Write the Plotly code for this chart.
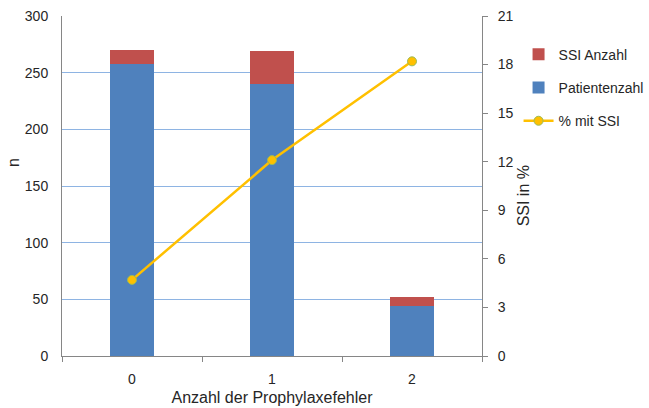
import plotly.graph_objects as go

# Anzahl der Prophylaxefehler
categories = ["0", "1", "2"]
# Patienten ohne SSI (untere Säule) und SSI-Fälle (aufgesetzt)
patientenzahl = [258, 240, 44]
ssi_anzahl = [12, 29, 8]
# Anteil SSI in Prozent
prozent_ssi = [4.7, 12.1, 18.2]

left_ticks = [0, 50, 100, 150, 200, 250, 300]
right_ticks = [0, 3, 6, 9, 12, 15, 18, 21]

FONT = "Liberation Sans, Arial, Helvetica, sans-serif"
TXT = "#262626"
AXIS = "#868686"

fig = go.Figure()

fig.add_trace(go.Bar(
    x=categories, y=patientenzahl, name="Patientenzahl",
    marker=dict(color="#4F81BD", line=dict(width=0)),
    width=0.32, legendrank=2, legendgroup="b",
))
fig.add_trace(go.Bar(
    x=categories, y=ssi_anzahl, name="SSI Anzahl",
    marker=dict(color="#C0504D", line=dict(width=0)),
    width=0.32, legendrank=1, legendgroup="a",
))
fig.add_trace(go.Scatter(
    x=categories, y=prozent_ssi, name="% mit SSI", yaxis="y2",
    mode="lines+markers",
    line=dict(color="#FFC000", width=2.5),
    marker=dict(size=9, color="#FFC000", line=dict(color="#9BBB59", width=1)),
    legendrank=3, legendgroup="c",
))

fig.update_layout(
    width=649, height=408,
    margin=dict(l=62, r=167, t=16, b=52, autoexpand=False),
    paper_bgcolor="white", plot_bgcolor="white",
    barmode="stack",
    font=dict(family=FONT, size=14, color=TXT),
    showlegend=True,
    legend=dict(
        xref="container", yref="container",
        x=0.799, y=0.905, xanchor="left", yanchor="top",
        font=dict(size=14, color=TXT),
        tracegroupgap=12, itemwidth=30,
        bgcolor="rgba(0,0,0,0)",
    ),
    xaxis=dict(
        type="category", range=[-0.5, 2.5], automargin=False,
        showline=True, linecolor=AXIS, linewidth=1,
        ticks="outside", tickson="boundaries", ticklen=5, tickcolor=AXIS,
        showgrid=False, zeroline=False,
        ticklabelstandoff=10,
        title=dict(text="Anzahl der Prophylaxefehler", standoff=6,
                   font=dict(size=16, color=TXT)),
    ),
    yaxis=dict(
        range=[0, 300], tickvals=left_ticks, automargin=False,
        showline=True, linecolor=AXIS, linewidth=1,
        ticks="", showgrid=True, gridcolor="#8EB4E3", gridwidth=1.3,
        zeroline=False, ticklabelstandoff=10,
    ),
    yaxis2=dict(
        range=[0, 21], tickvals=right_ticks, automargin=False,
        overlaying="y", side="right",
        showline=True, linecolor=AXIS, linewidth=1,
        ticks="outside", ticklen=5, tickcolor=AXIS,
        showgrid=False, zeroline=False, ticklabelstandoff=7,
    ),
    annotations=[
        dict(
            text="n", textangle=-90,
            xref="paper", yref="paper", x=-0.117, y=0.57,
            xanchor="center", yanchor="middle", showarrow=False,
            font=dict(size=16, color=TXT),
        ),
        dict(
            text="SSI in %", textangle=-90,
            xref="paper", yref="paper", x=1.098, y=0.47,
            xanchor="center", yanchor="middle", showarrow=False,
            font=dict(size=16, color=TXT),
        ),
    ],
)

fig.write_html("out.html")
